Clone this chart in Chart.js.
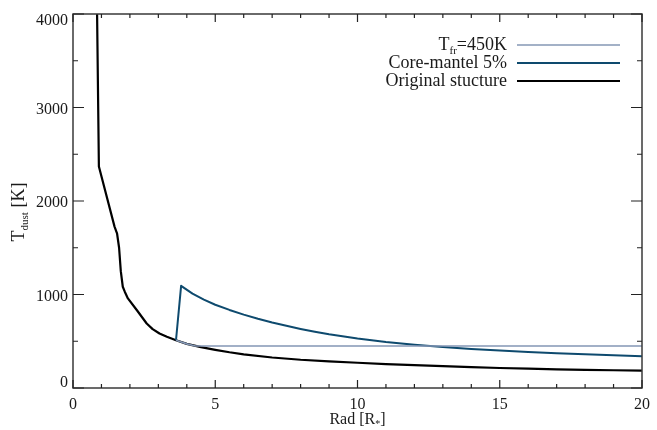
<!DOCTYPE html>
<html>
<head>
<meta charset="utf-8">
<script src="https://cdn.jsdelivr.net/npm/chart.js@4"></script>
<style>
  html, body { margin: 0; padding: 0; background: #fff; }
  #wrap { width: 657px; height: 430px; }
</style>
</head>
<body>
<div id="wrap"><canvas id="chart" width="657" height="430"></canvas></div>
<script>
// dust temperature profiles vs radius (in stellar radii)
const radOrig = [0.835, 0.91, 1.46, 1.55, 1.62, 1.68, 1.75, 1.82, 1.93, 2.26, 2.59, 2.8, 3.04, 3.3, 3.62, 4.0, 4.5, 5.0, 5.5, 6.0, 7.0, 8.0, 9.0, 10, 11, 12, 13, 14, 15, 16, 17, 18, 19, 20];
const tOrig   = [4300, 2370, 1726, 1650, 1500, 1250, 1083, 1030, 958, 826, 690, 630, 583, 548, 511, 472, 437, 408, 382, 360, 326, 302, 285, 270, 256, 244, 233, 223, 214, 207, 200, 194, 190, 186];

const radCore = [3.62, 3.80, 4.2, 4.6, 5.0, 5.5, 6.0, 6.5, 7.0, 7.5, 8.0, 8.5, 9.0, 10, 11, 12, 13, 14, 15, 16, 17, 18, 19, 20];
const tCore   = [511, 1093, 1010, 945, 890, 835, 785, 740, 700, 665, 632, 602, 575, 530, 492, 462, 438, 418, 400, 386, 372, 360, 350, 340];

const radFreeze = [3.62, 4.0, 4.3, 20];
const tFreeze   = [511, 472, 450, 450];

const seriesLabels = ['T_{fr}=450K', 'Core-mantel 5%', 'Original stucture'];
const xTitle = 'Rad [R_{*}]';
const yTitle = 'T_{dust} [K]';

const FONT = '"Liberation Serif", "DejaVu Serif", serif';
const INK = '#1a1a1a';

const toPoints = (xs, ys) => xs.map((x, i) => ({ x: x, y: ys[i] }));

// text with "_{...}" subscripts
function richParts(text) {
  const parts = [];
  const re = /_\{([^}]*)\}/g;
  let last = 0, m;
  while ((m = re.exec(text)) !== null) {
    if (m.index > last) parts.push({ t: text.slice(last, m.index), sub: false });
    parts.push({ t: m[1], sub: true });
    last = re.lastIndex;
  }
  if (last < text.length) parts.push({ t: text.slice(last), sub: false });
  return parts;
}

function drawRich(ctx, text, x, y, align, size) {
  const parts = richParts(text);
  const big = size + 'px ' + FONT;
  const small = Math.round(size * 0.62) + 'px ' + FONT;
  let w = 0;
  parts.forEach(p => { ctx.font = p.sub ? small : big; p.w = ctx.measureText(p.t).width; w += p.w; });
  let cx = align === 'right' ? x - w : align === 'center' ? x - w / 2 : x;
  ctx.textAlign = 'left';
  ctx.textBaseline = 'alphabetic';
  parts.forEach(p => {
    ctx.font = p.sub ? small : big;
    ctx.fillText(p.t, cx, p.sub ? y + size * 0.2 : y);
    cx += p.w;
  });
}

// box frame with inward ticks on every side, y labels, titles and legend
const framePlugin = {
  id: 'frame',
  afterDatasetsDraw(chart) {
    const { ctx, chartArea: a, scales: { x, y } } = chart;
    ctx.save();
    ctx.strokeStyle = '#3a3a3a';
    ctx.lineWidth = 1.5;
    ctx.strokeRect(a.left, a.top, a.right - a.left, a.bottom - a.top);

    ctx.lineWidth = 1.2;
    ctx.strokeStyle = '#222';
    ctx.beginPath();
    for (let v = 0; v <= 20; v += 1) {
      const px = x.getPixelForValue(v);
      const len = v % 5 === 0 ? 8 : 4;
      ctx.moveTo(px, a.bottom); ctx.lineTo(px, a.bottom - len);
      ctx.moveTo(px, a.top); ctx.lineTo(px, a.top + len);
    }
    for (let v = 0; v <= 4000; v += 500) {
      const py = y.getPixelForValue(v);
      const len = v % 1000 === 0 ? 11 : 5;
      ctx.moveTo(a.left, py); ctx.lineTo(a.left + len, py);
      ctx.moveTo(a.right, py); ctx.lineTo(a.right - len, py);
    }
    ctx.stroke();

    // y tick labels, the end ones kept inside the frame height
    ctx.fillStyle = INK;
    ctx.font = '16px ' + FONT;
    ctx.textAlign = 'right';
    ctx.textBaseline = 'middle';
    y.ticks.forEach(t => {
      let py = y.getPixelForValue(t.value) + 2;
      py = Math.min(Math.max(py, a.top + 7), a.bottom - 5);
      ctx.fillText(String(t.value), a.left - 5, py);
    });

    // axis titles
    drawRich(ctx, xTitle, (a.left + a.right) / 2, 424, 'center', 16);
    ctx.save();
    ctx.translate(24, 212);
    ctx.rotate(-Math.PI / 2);
    drawRich(ctx, yTitle, 0, 0, 'center', 18);
    ctx.restore();

    // legend
    const rowY = [45, 63, 81];
    chart.data.datasets.forEach((ds, i) => {
      ctx.fillStyle = INK;
      drawRich(ctx, seriesLabels[i], 507, rowY[i] + 5, 'right', 18);
      ctx.strokeStyle = ds.borderColor;
      ctx.lineWidth = ds.borderWidth;
      ctx.beginPath();
      ctx.moveTo(517, rowY[i]);
      ctx.lineTo(620, rowY[i]);
      ctx.stroke();
    });
    ctx.restore();
  }
};

new Chart(document.getElementById('chart').getContext('2d'), {
  type: 'line',
  data: {
    datasets: [
      {
        label: seriesLabels[0],
        data: toPoints(radFreeze, tFreeze),
        borderColor: '#8497b5',
        borderWidth: 1.6
      },
      {
        label: seriesLabels[1],
        data: toPoints(radCore, tCore),
        borderColor: '#0e4a6e',
        borderWidth: 2
      },
      {
        label: seriesLabels[2],
        data: toPoints(radOrig, tOrig),
        borderColor: '#000000',
        borderWidth: 2.2
      }
    ]
  },
  options: {
    responsive: false,
    animation: false,
    layout: { padding: { top: 14, right: 13, left: 0, bottom: 0 } },
    elements: {
      point: { radius: 0 },
      line: { tension: 0, fill: false, borderJoinStyle: 'round' }
    },
    plugins: {
      legend: { display: false },
      tooltip: { enabled: false }
    },
    scales: {
      x: {
        type: 'linear',
        min: 0,
        max: 20,
        grid: { display: false, drawTicks: false },
        border: { display: false },
        ticks: { stepSize: 5, padding: 7, color: INK, font: { family: FONT, size: 16 } },
        afterFit(scale) { scale.height = 42; }
      },
      y: {
        type: 'linear',
        min: 0,
        max: 4000,
        grid: { display: false, drawTicks: false },
        border: { display: false },
        ticks: { stepSize: 1000, display: false },
        afterFit(scale) { scale.width = 73; }
      }
    }
  },
  plugins: [framePlugin]
});
</script>
</body>
</html>
